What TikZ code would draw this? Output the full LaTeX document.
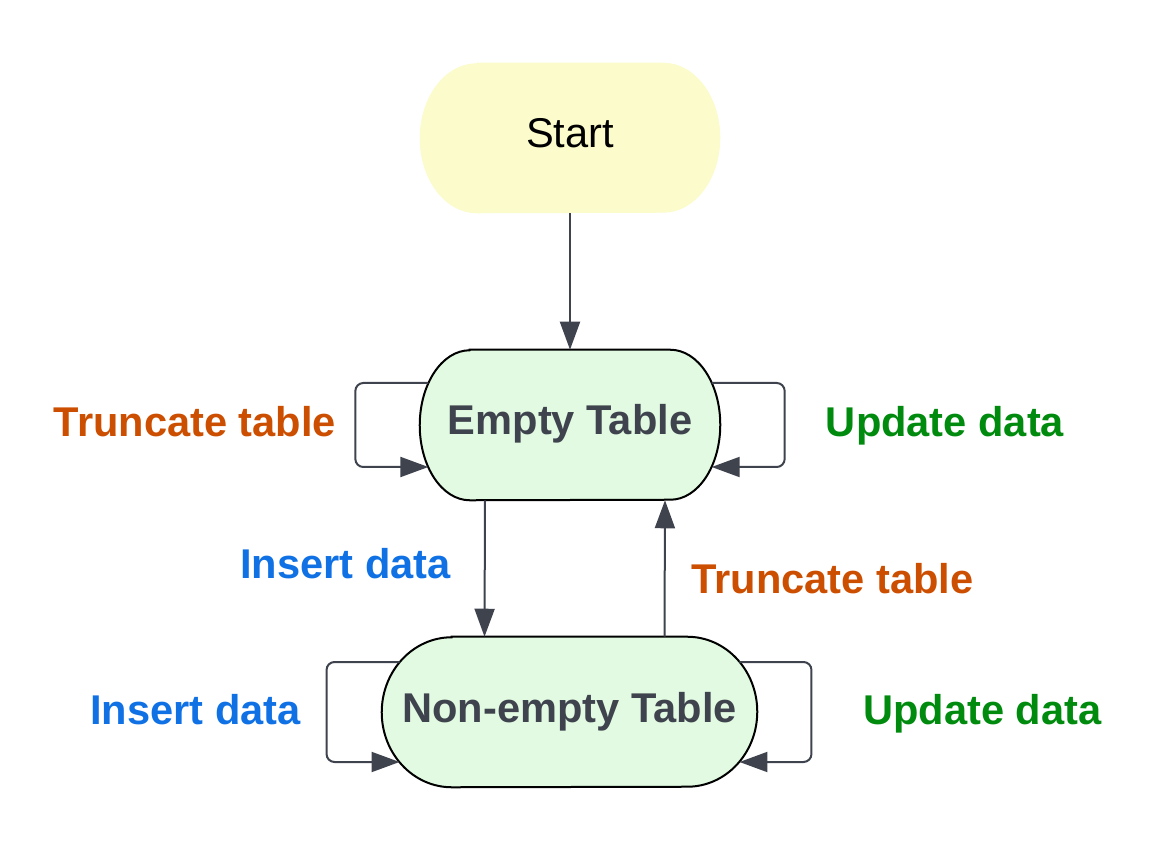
\documentclass[tikz,border=0pt]{standalone}
\usepackage{fontspec}
\setmainfont{Liberation Sans}
\usetikzlibrary{arrows.meta,calc,backgrounds}

\definecolor{lineclr}{RGB}{62,67,77}
\definecolor{startfill}{RGB}{251,251,203}
\definecolor{tablefill}{RGB}{225,250,225}
\definecolor{orangeclr}{RGB}{204,78,0}
\definecolor{greenclr}{RGB}{0,138,14}
\definecolor{blueclr}{RGB}{16,113,229}

\tikzset{
  tablestate/.style={inner sep=0pt, minimum height=112.5pt, text height=22pt, text depth=7pt,
    text=lineclr, font=\fontsize{31.2}{36}\selectfont\bfseries},
  trans/.style={line width=1.5pt, draw=lineclr, -{Triangle[length=21pt,width=15pt]}},
  selfloop/.style={trans, rounded corners=6pt},
  lbl/.style={inner sep=0pt, anchor=base, font=\fontsize{31.2}{36}\selectfont\bfseries},
}

% stadium outline round a node: #1 node, #2 end radius, #3 path options
\newcommand\stadium[3]{%
  \path[#3] ($(#1.north west)+(#2,0)$) -- ($(#1.north east)+(-#2,0)$)
    arc[start angle=-90,end angle=90,x radius=#2,y radius=75]
    -- ($(#1.south west)+(#2,0)$)
    arc[start angle=90,end angle=270,x radius=#2,y radius=75] -- cycle;}

\begin{document}
\begin{tikzpicture}[x=0.75pt,y=0.75pt,yscale=-1,xscale=1]
  \useasboundingbox (0,0) rectangle (1164,855);

  % States
  \node[tablestate, minimum width=225pt, text=black, font=\fontsize{31.2}{36}\selectfont] (start) at (570,138) {Start};
  \node[tablestate, minimum width=225pt] (empty) at (570,425) {Empty Table};
  \node[tablestate, minimum width=281.25pt] (nonempty) at (569.5,712) {Non-empty Table};

  \begin{scope}[on background layer]
    \stadium{start}{57}{fill=startfill}
    \stadium{empty}{50}{fill=tablefill, draw=black, line width=1.5pt}
    \stadium{nonempty}{70}{fill=tablefill, draw=black, line width=1.5pt}
  \end{scope}

  % Transitions
  \draw[trans] (start.south) -- (empty.north);
  \draw[trans] ($(empty.south)+(-85,0)$) -- ($(nonempty.north)+(-85,0)$);
  \draw[trans] ($(nonempty.north)+(95,0)$) -- ($(empty.south)+(95,0)$);

  % Self loops
  \draw[selfloop] ($(empty.west)+(8.6,-42)$) -- ++(-73,0) |- ($(empty.west)+(8.6,42)$);
  \draw[selfloop] ($(empty.east)+(-8.6,-42)$) -- ++(73,0) |- ($(empty.east)+(-8.6,42)$);
  \draw[selfloop] ($(nonempty.west)+(17.8,-50)$) -- ++(-73,0) |- ($(nonempty.west)+(17.8,50)$);
  \draw[selfloop] ($(nonempty.east)+(-17.8,-50)$) -- ++(72,0) |- ($(nonempty.east)+(-17.8,50)$);

  % Labels
  \node[lbl, text=orangeclr] (truncempty) at (195,436) {Truncate table};
  \node[lbl, text=greenclr] (updempty) at (945,436) {Update data};
  \node[lbl, text=blueclr] (insfirst) at (345.5,578) {Insert data};
  \node[lbl, text=orangeclr] (truncfull) at (832.5,593) {Truncate table};
  \node[lbl, text=blueclr] (insfull) at (195.5,724) {Insert data};
  \node[lbl, text=greenclr] (updfull) at (982.5,724) {Update data};
\end{tikzpicture}
\end{document}
